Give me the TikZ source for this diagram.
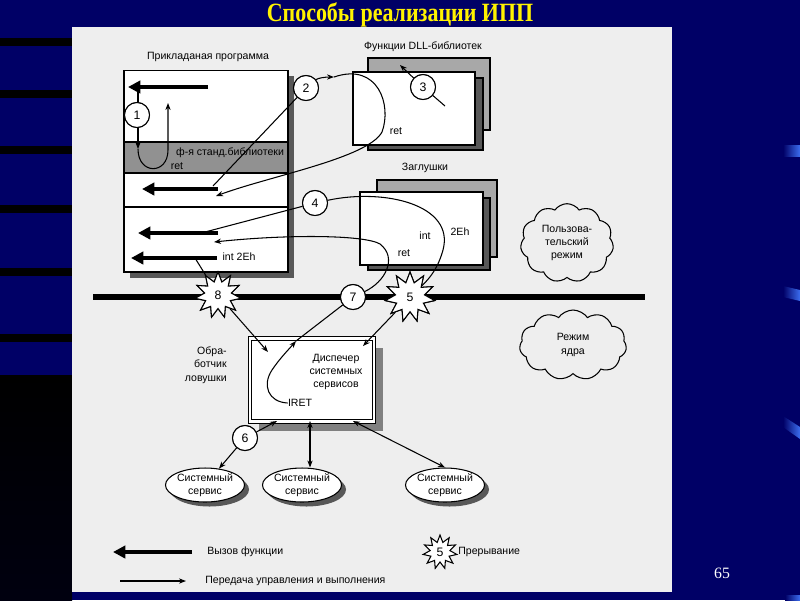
\documentclass[tikz,border=0pt]{standalone}
\usepackage{fontspec}
\setmainfont{Liberation Sans}
\newfontfamily\slidefont{Liberation Serif}
\usetikzlibrary{arrows.meta,shapes.geometric,shapes.symbols,shadows,calc}
\definecolor{slidebg}{RGB}{0,0,102}
\definecolor{pagebg}{RGB}{238,238,238}
\definecolor{bandgray}{RGB}{145,145,145}
\definecolor{midgray}{RGB}{168,168,168}
\definecolor{shadowgray}{RGB}{88,88,88}
\definecolor{barblue}{RGB}{60,110,240}

\begin{document}
\begin{tikzpicture}[x=0.02cm,y=-0.02cm,>={Stealth[length=4pt,width=3pt]},
   font=\fontsize{6}{7.6}\selectfont,
   lbl/.style={inner sep=0pt,align=center},
   callarr/.style={line width=2.8pt,-{Triangle[length=7pt,width=7pt]}},
   ctl/.style={line width=0.6pt},
   num/.style={circle,draw,fill=white,line width=0.6pt,minimum size=0.5cm,
     inner sep=0pt,font=\fontsize{7}{7}\selectfont},
   burst/.style={star,star points=11,star point ratio=1.7,draw,fill=white,
     line width=0.6pt,minimum size=#1,inner sep=0pt,font=\fontsize{7}{7}\selectfont},
   cloudbox/.style={cloud,cloud puffs=11,cloud puff arc=110,draw,fill=pagebg,
     line width=0.6pt,inner sep=0pt,align=center},
   panel/.style={draw,line width=0.6pt,inner sep=0pt},
   svc/.style={ellipse,draw,fill=white,line width=0.6pt,minimum width=1.32cm,
     minimum height=0.68cm,inner sep=0pt,align=center,
     drop shadow={shadow xshift=0.09cm,shadow yshift=-0.09cm,fill=shadowgray,opacity=1}}]
  \useasboundingbox (0,0) rectangle (800,600);

  % slide background
  \fill[slidebg] (0,0) rectangle (800,600);
  \foreach \y in {42,94,150,209,272,338}
    \fill[black] (0,\y-4) rectangle (72,\y+4);
  \shade[top color=black,bottom color=black!85!slidebg] (0,375) rectangle (72,600);
  \shade[left color=slidebg,right color=barblue] (783,145) rectangle (800,156);
  \shade[left color=slidebg,right color=barblue] (783,286) -- (800,290) -- (800,301) -- (783,297) -- cycle;
  \shade[left color=slidebg,right color=barblue] (783,416) -- (800,427) -- (800,439) -- (783,427) -- cycle;
  \shade[left color=slidebg,right color=barblue] (785,595) rectangle (800,600);
  \node[font=\slidefont\bfseries\fontsize{12.5}{12.5}\selectfont,text=yellow] (title) at (400,15)
    {\scalebox{1}[1.2]{Способы реализации ИПП}};
  \node[font=\slidefont\fontsize{9}{9}\selectfont,text=white] (pgno) at (722,573) {65};

  % scanned page
  \fill[pagebg] (72,27) rectangle (672,592);

  % application program
  \node[panel,fill=white,minimum width=3.28cm,minimum height=4.04cm,
    drop shadow={shadow xshift=0.12cm,shadow yshift=-0.12cm,fill=shadowgray,opacity=1}] (app) at (206,171) {};
  \draw[ctl,fill=bandgray] (124,142) rectangle (288,173);
  \draw[ctl] (124,207) -- (288,207);
  \node[lbl] (appT) at (208,57) {Прикладаная программа};
  \node[lbl] (libT) at (230,153) {ф-я станд.библиотеки};
  \node[lbl] (ret1) at (177,166) {ret};
  \node[lbl] (int2) at (239,257) {int 2Eh};

  % DLL functions and stubs
  \node[panel,fill=midgray,minimum width=2.44cm,minimum height=1.44cm] (dllA) at (429,94) {};
  \node[panel,fill=shadowgray,minimum width=2.3cm,minimum height=1.44cm] (dllB) at (425.5,114) {};
  \node[panel,fill=white,minimum width=2.44cm,minimum height=1.46cm] (dllC) at (414,108.5) {};
  \node[lbl] (dllT) at (423,47) {Функции DLL-библиотек};
  \node[panel,fill=midgray,minimum width=2.4cm,minimum height=1.54cm] (stubA) at (437,218.5) {};
  \node[panel,fill=shadowgray,minimum width=2.44cm,minimum height=1.44cm] (stubB) at (429,234) {};
  \node[panel,fill=white,minimum width=2.46cm,minimum height=1.46cm] (stubC) at (421.5,228.5) {};
  \node[lbl] (stubT) at (425,168) {Заглушки};

  % modes
  \node[cloudbox,minimum width=1.86cm,minimum height=1.4cm] (user) at (567,243) {Пользова-\\тельский\\режим};
  \node[cloudbox,minimum width=2.14cm,minimum height=1.4cm] (kern) at (573,345) {Режим\\ядра};

  % dispatcher
  \node[draw,double,double distance=1.4pt,line width=0.5pt,fill=white,minimum width=2.48cm,
    minimum height=1.66cm,drop shadow={shadow xshift=0.18cm,shadow yshift=-0.18cm,fill=gray,opacity=1}] (disp) at (312,380) {};
  \node[lbl] (dispT) at (336,372) {Диспечер\\системных\\сервисов};
  \node[lbl] (iret) at (300,403) {IRET};
  \node[lbl,align=right,anchor=east] (trapT) at (227,365) {Обра-\\ботчик\\ловушки};

  % system services
  \node[svc] (svc1) at (205,485) {Системный\\сервис};
  \node[svc] (svc2) at (302,485) {Системный\\сервис};
  \node[svc] (svc3) at (445,485) {Системный\\сервис};

  % user / kernel boundary
  \coordinate (barL) at (93,297);
  \coordinate (barR) at (645,297);
  \draw[line width=3.1pt] (barL) -- (barR);

  % function calls
  \coordinate (a1s) at (208,87);  \coordinate (a1e) at (128,87);
  \coordinate (a2s) at (218,189); \coordinate (a2e) at (142,189);
  \coordinate (a3s) at (218,233); \coordinate (a3e) at (138,233);
  \coordinate (a4s) at (217,258); \coordinate (a4e) at (131,258);
  \draw[callarr] (a1s) -- (a1e);
  \draw[callarr] (a2s) -- (a2e);
  \draw[callarr] (a3s) -- (a3e);
  \draw[callarr] (a4s) -- (a4e);

  % transfers of control
  \coordinate (l1a) at (138,90);  \coordinate (l1b) at (138,149); \coordinate (l1c) at (168,103);
  \coordinate (o2) at (213,186);  \coordinate (m2) at (334,77);   \coordinate (r2) at (216,196);
  \coordinate (c3t) at (400,65);  \coordinate (c3b) at (445,106);
  \coordinate (o4) at (205,232);  \coordinate (r3) at (214,242);
  \coordinate (o8) at (195,258);  \coordinate (h8) at (268,352);
  \coordinate (h5) at (363,346);  \coordinate (t7) at (296,341);
  \coordinate (d1) at (277,421);  \coordinate (d2) at (310,421);  \coordinate (d3) at (353,421);

  \node[num] (n1) at (137,115) {1};
  \node[num] (n2) at (306,88) {2};
  \node[num] (n3) at (423,87) {3};
  \node[num] (n4) at (315,203) {4};
  \node[num] (n6) at (245,438) {6};
  \node[num] (n7) at (353,297) {7};
  \node[burst=0.92cm] (s8) at (218,295) {8};
  \node[burst=1cm] (s5) at (410,297) {5};

  \begin{scope}[ctl]
    \draw[->] (l1a) -- (l1b);
    \draw[->] (l1b) .. controls (138,175) and (168,175) .. (168,150) -- (l1c);
    \draw (o2) -- (n2);
    \draw[->] (n2) .. controls (318,78) and (325,77) .. (m2);
    \draw[->] (m2) .. controls (378,62) and (392,105) .. (382,132) .. controls (368,158) and (270,176) .. (r2);
    \draw (c3b) -- (n3);
    \draw[->] (n3) -- (c3t);
    \draw (o4) -- (n4);
    \draw (n4) .. controls (385,188) and (455,205) .. (443,250) .. controls (438,268) and (430,278) .. (s5);
    \draw[->] (n7) .. controls (385,282) and (398,258) .. (380,244) .. controls (365,235) and (290,234) .. (r3);
    \draw (o8) -- (s8);
    \draw[->] (s8) -- (h8);
    \draw[->] (s5) -- (h5);
    \draw[->] (iret.west) .. controls (268,402) and (262,385) .. (272,370) .. controls (280,358) and (290,348) .. (t7);
    \draw (t7) -- (n7);
    \draw[->] (n6) -- (d1);
    \draw[->] (n6) -- (svc1);
    \draw[<->] (d2) -- (d2 |- svc2.north);
    \draw[<->] (d3) -- (svc3.north);
  \end{scope}
  \node[lbl] (ret2) at (396,131) {ret};
  \node[lbl] (intL) at (425,236) {int};
  \node[lbl] (ehL) at (460,232) {2Eh};
  \node[lbl] (ret3) at (404,253) {ret};

  % redraw numbered marks on top
  \node[num] at (n1) {1};
  \node[num] at (n2) {2};
  \node[num] at (n3) {3};
  \node[num] at (n4) {4};
  \node[num] at (n6) {6};
  \node[num] at (n7) {7};
  \node[burst=0.92cm] at (s8) {8};
  \node[burst=1cm] at (s5) {5};

  % legend
  \coordinate (lg1s) at (192,552); \coordinate (lg1e) at (113,552);
  \coordinate (lg2s) at (120,581); \coordinate (lg2e) at (186,581);
  \draw[callarr] (lg1s) -- (lg1e);
  \draw[ctl,->] (lg2s) -- (lg2e);
  \node[lbl,anchor=west] (lgT1) at (207,552) {Вызов функции};
  \node[lbl,anchor=west] (lgT2) at (205,581) {Передача управления и выполнения};
  \node[burst=0.68cm] (lgS) at (440,552) {5};
  \node[lbl,anchor=west] (lgT3) at (458,552) {Прерывание};
\end{tikzpicture}
\end{document}
